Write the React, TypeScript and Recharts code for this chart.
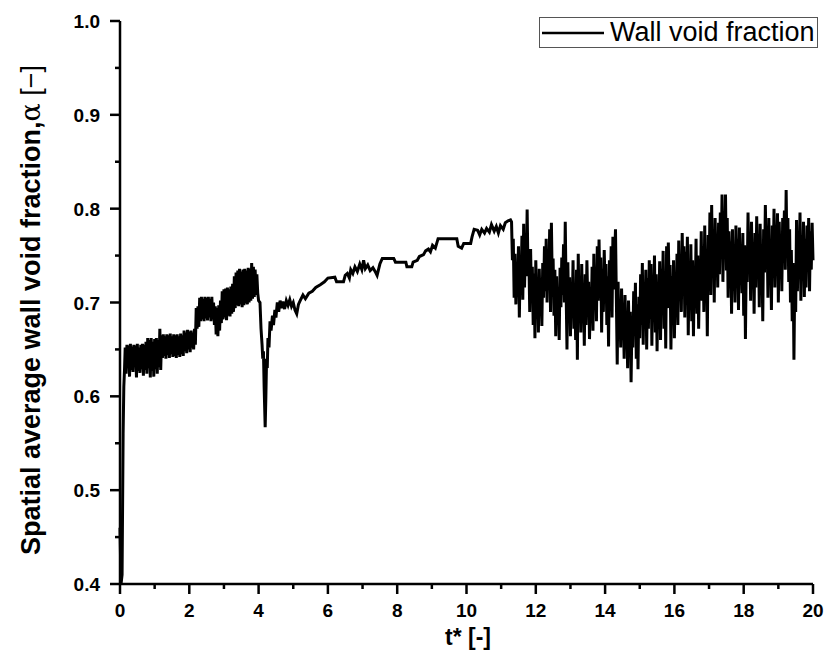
import { LineChart, Line, XAxis, YAxis, Legend, Label } from 'recharts'

const startTimes = [0, 0.03, 0.06, 0.09, 0.11, 0.13]
const startAlpha = [0.46, 0.4, 0.41, 0.56, 0.61, 0.628]

// dense band, one sample every 0.025 from t = 0.15 to 4.0
const bandStart = 0.15
const bandStep = 0.025
const bandAlpha = [
  0.652, 0.624, 0.655, 0.63, 0.654, 0.621, 0.656, 0.628, 0.653, 0.626, 0.655, 0.632, 0.654, 0.62, 0.656, 0.627, 0.652, 0.625, 0.655, 0.629,
  0.656, 0.622, 0.655, 0.628, 0.658, 0.624, 0.662, 0.63, 0.66, 0.62, 0.662, 0.627, 0.658, 0.621, 0.661, 0.629, 0.662, 0.624, 0.66, 0.631,
  0.672, 0.628, 0.665, 0.641, 0.666, 0.643, 0.664, 0.64, 0.666, 0.644, 0.665, 0.641, 0.667, 0.645, 0.664, 0.642, 0.666, 0.643, 0.665, 0.641,
  0.666, 0.644, 0.664, 0.642, 0.667, 0.645, 0.665, 0.643, 0.67, 0.648, 0.668, 0.646, 0.671, 0.65, 0.669, 0.647, 0.67, 0.652, 0.668, 0.65,
  0.672, 0.655, 0.694, 0.672, 0.696, 0.674, 0.705, 0.68, 0.706, 0.682, 0.704, 0.68, 0.706, 0.683, 0.705, 0.681, 0.706, 0.684, 0.704, 0.68,
  0.706, 0.682, 0.7, 0.676, 0.696, 0.666, 0.694, 0.664, 0.697, 0.67, 0.702, 0.678, 0.712, 0.682, 0.714, 0.684, 0.715, 0.681, 0.716, 0.686,
  0.714, 0.685, 0.717, 0.688, 0.72, 0.69, 0.728, 0.694, 0.732, 0.697, 0.734, 0.696, 0.736, 0.698, 0.733, 0.695, 0.735, 0.697, 0.736, 0.699,
  0.734, 0.698, 0.737, 0.7, 0.736, 0.702, 0.742, 0.704, 0.738, 0.706, 0.735, 0.708, 0.73, 0.71, 0.702,
]

// dip near t = 4.2 and the slow climb up to t = 11.3
const rampTimes = [
  4.04, 4.07, 4.1, 4.12, 4.14, 4.16, 4.19, 4.21, 4.23, 4.25, 4.27, 4.3, 4.33, 4.36, 4.4, 4.43, 4.47, 4.5, 4.54, 4.58,
  4.62, 4.66, 4.7, 4.75, 4.8, 4.85, 4.9, 4.95, 5.0, 5.05, 5.1, 5.15, 5.2, 5.28, 5.35, 5.45, 5.55, 5.65, 5.78, 5.9,
  6.0, 6.2, 6.25, 6.45, 6.5, 6.56, 6.62, 6.66, 6.72, 6.78, 6.85, 6.92, 6.98, 7.03, 7.08, 7.15, 7.22, 7.3, 7.38, 7.42,
  7.5, 7.57, 7.9, 7.95, 8.25, 8.28, 8.42, 8.46, 8.58, 8.64, 8.76, 8.82, 8.9, 8.96, 9.02, 9.1, 9.18, 9.72, 9.76, 9.86,
  9.92, 10.12, 10.16, 10.22, 10.32, 10.38, 10.44, 10.52, 10.58, 10.66, 10.72, 10.8, 10.86, 10.92, 10.98, 11.06, 11.12, 11.2, 11.27,
]
const rampAlpha = [
  0.7, 0.672, 0.655, 0.64, 0.648, 0.61, 0.567, 0.6, 0.64, 0.63, 0.662, 0.652, 0.68, 0.67, 0.686, 0.676, 0.692, 0.684, 0.7, 0.69,
  0.702, 0.694, 0.701, 0.693, 0.702, 0.697, 0.703, 0.696, 0.7, 0.692, 0.688, 0.698, 0.702, 0.708, 0.704, 0.71, 0.712, 0.716, 0.719, 0.722,
  0.726, 0.727, 0.722, 0.722, 0.729, 0.731, 0.726, 0.735, 0.731, 0.738, 0.733, 0.741, 0.735, 0.745, 0.736, 0.74, 0.734, 0.737, 0.732, 0.729,
  0.741, 0.747, 0.747, 0.743, 0.743, 0.738, 0.738, 0.743, 0.745, 0.749, 0.751, 0.755, 0.757, 0.754, 0.761, 0.758, 0.768, 0.768, 0.76, 0.758,
  0.763, 0.763, 0.77, 0.778, 0.777, 0.772, 0.778, 0.774, 0.779, 0.775, 0.783, 0.776, 0.781, 0.774, 0.782, 0.778, 0.785, 0.787, 0.788,
]

// fluctuating part, one sample every 0.025 from t = 11.3 to 20
const noiseStart = 11.3
const noiseStep = 0.025
const noiseAlpha = [
  0.786, 0.745, 0.768, 0.705, 0.752, 0.698, 0.735, 0.712, 0.76, 0.684, 0.742, 0.72, 0.771, 0.703, 0.784, 0.716, 0.762, 0.728, 0.799, 0.735,
  0.748, 0.69, 0.757, 0.702, 0.738, 0.676, 0.731, 0.662, 0.745, 0.7, 0.724, 0.668, 0.736, 0.694, 0.718, 0.675, 0.742, 0.705, 0.76, 0.712,
  0.768, 0.7, 0.754, 0.718, 0.778, 0.69, 0.785, 0.722, 0.747, 0.686, 0.735, 0.664, 0.728, 0.68, 0.712, 0.66, 0.737, 0.695, 0.748, 0.708,
  0.762, 0.7, 0.786, 0.712, 0.65, 0.743, 0.682, 0.727, 0.664, 0.718, 0.69, 0.745, 0.672, 0.712, 0.66, 0.735, 0.639, 0.752, 0.684, 0.727,
  0.668, 0.741, 0.69, 0.716, 0.654, 0.73, 0.676, 0.745, 0.698, 0.722, 0.661, 0.705, 0.684, 0.738, 0.67, 0.752, 0.693, 0.729, 0.68, 0.76,
  0.702, 0.767, 0.715, 0.748, 0.668, 0.736, 0.69, 0.756, 0.712, 0.741, 0.676, 0.728, 0.653, 0.745, 0.702, 0.76, 0.684, 0.77, 0.714, 0.748,
  0.778, 0.704, 0.634, 0.722, 0.668, 0.7, 0.652, 0.715, 0.676, 0.694, 0.64, 0.708, 0.662, 0.686, 0.63, 0.702, 0.658, 0.69, 0.615, 0.68,
  0.652, 0.712, 0.668, 0.721, 0.64, 0.698, 0.629, 0.706, 0.662, 0.73, 0.676, 0.742, 0.655, 0.718, 0.688, 0.735, 0.65, 0.726, 0.672, 0.745,
  0.683, 0.741, 0.654, 0.722, 0.696, 0.75, 0.668, 0.73, 0.648, 0.712, 0.69, 0.744, 0.66, 0.736, 0.702, 0.755, 0.672, 0.728, 0.651, 0.76,
  0.694, 0.764, 0.712, 0.74, 0.65, 0.728, 0.686, 0.745, 0.662, 0.718, 0.7, 0.752, 0.676, 0.766, 0.708, 0.742, 0.69, 0.774, 0.715, 0.76,
  0.684, 0.754, 0.706, 0.77, 0.665, 0.738, 0.698, 0.762, 0.68, 0.745, 0.664, 0.732, 0.702, 0.768, 0.688, 0.75, 0.672, 0.735, 0.712, 0.776,
  0.702, 0.76, 0.69, 0.782, 0.715, 0.748, 0.664, 0.772, 0.725, 0.796, 0.708, 0.804, 0.736, 0.778, 0.7, 0.79, 0.742, 0.768, 0.716, 0.785,
  0.73, 0.796, 0.748, 0.815, 0.722, 0.788, 0.758, 0.815, 0.734, 0.79, 0.705, 0.776, 0.742, 0.765, 0.688, 0.778, 0.72, 0.752, 0.7, 0.782,
  0.735, 0.768, 0.692, 0.78, 0.724, 0.756, 0.71, 0.774, 0.686, 0.761, 0.661, 0.748, 0.722, 0.796, 0.74, 0.77, 0.702, 0.786, 0.73, 0.76,
  0.688, 0.774, 0.716, 0.792, 0.742, 0.768, 0.695, 0.784, 0.722, 0.756, 0.68, 0.778, 0.732, 0.804, 0.748, 0.77, 0.705, 0.79, 0.728, 0.764,
  0.692, 0.782, 0.738, 0.8, 0.716, 0.772, 0.754, 0.795, 0.7, 0.786, 0.742, 0.77, 0.712, 0.79, 0.76, 0.798, 0.735, 0.82, 0.748, 0.79,
  0.722, 0.778, 0.7, 0.756, 0.68, 0.742, 0.639, 0.73, 0.69, 0.788, 0.712, 0.76, 0.74, 0.796, 0.702, 0.772, 0.725, 0.786, 0.706, 0.768,
  0.716, 0.782, 0.742, 0.79, 0.712, 0.776, 0.735, 0.785, 0.745,
]

const xTicks = [0, 1, 2, 3, 4, 5, 6, 7, 8, 9, 10, 11, 12, 13, 14, 15, 16, 17, 18, 19, 20]
const yTicks = [0.4, 0.45, 0.5, 0.55, 0.6, 0.65, 0.7, 0.75, 0.8, 0.85, 0.9, 0.95, 1.0]

const seriesName = 'Wall void fraction'

const data = [
  ...startTimes.map((t, i) => ({ t, alpha: startAlpha[i] })),
  ...bandAlpha.map((a, i) => ({ t: +(bandStart + i * bandStep).toFixed(3), alpha: a })),
  ...rampTimes.map((t, i) => ({ t, alpha: rampAlpha[i] })),
  ...noiseAlpha.map((a, i) => ({ t: +(noiseStart + i * noiseStep).toFixed(3), alpha: a })),
]

const font = 'Arial, "Liberation Sans", sans-serif'

function XTick({ x, y, payload }: any) {
  const major = payload.value % 2 === 0
  return (
    <g>
      <line x1={x} x2={x} y1={y} y2={y + (major ? 10 : 5)} stroke="#000" strokeWidth={2.5} />
      {major && (
        <text x={x} y={y + 33} textAnchor="middle" fontSize={19} fontWeight="bold" fontFamily={font} fill="#000">
          {payload.value}
        </text>
      )}
    </g>
  )
}

function YTick({ x, y, payload }: any) {
  const major = Math.round(payload.value * 100) % 10 === 0
  return (
    <g>
      <line x1={x} x2={x - (major ? 10 : 5)} y1={y} y2={y} stroke="#000" strokeWidth={2.5} />
      {major && (
        <text x={x - 20} y={y + 7} textAnchor="end" fontSize={19} fontWeight="bold" fontFamily={font} fill="#000">
          {payload.value.toFixed(1)}
        </text>
      )}
    </g>
  )
}

function YTitle() {
  return (
    <text x={40} y={310} transform="rotate(-90, 40, 310)" textAnchor="middle" fontSize={27} fontFamily={font} fill="#000">
      <tspan fontWeight="bold">Spatial average wall void fraction,</tspan>
      <tspan fontFamily="'DejaVu Serif', serif">α</tspan>
      <tspan> [−]</tspan>
    </text>
  )
}

function XTitle() {
  return (
    <text x={468} y={645} textAnchor="middle" fontSize={23} fontWeight="bold" fontFamily={font} fill="#000">
      t* [-]
    </text>
  )
}

function LegendBox() {
  return (
    <div
      style={{
        width: 279,
        height: 31,
        boxSizing: 'border-box',
        border: '1px solid #555',
        background: '#fff',
        display: 'flex',
        alignItems: 'center',
        fontFamily: font,
        fontSize: 27,
        lineHeight: 1,
        color: '#000',
        whiteSpace: 'nowrap',
      }}
    >
      <svg width={64} height={10} style={{ marginLeft: 2 }}>
        <line x1={0} x2={62} y1={5} y2={5} stroke="#000" strokeWidth={2.5} />
      </svg>
      <span style={{ marginLeft: 4 }}>{seriesName}</span>
    </div>
  )
}

export default function App() {
  return (
    <div style={{ position: 'absolute', left: 0, top: 0, width: 828, height: 652, background: '#fff' }}>
      <LineChart width={828} height={652} data={data} margin={{ top: 21, right: 15, bottom: 0, left: 0 }}>
        <XAxis
          dataKey="t"
          type="number"
          domain={[0, 20]}
          ticks={xTicks}
          interval={0}
          height={68}
          tickSize={0}
          tickMargin={0}
          tick={<XTick />}
          axisLine={{ stroke: '#000', strokeWidth: 2.5 }}
          tickLine={false}
        >
          <Label content={<XTitle />} />
        </XAxis>
        <YAxis
          type="number"
          domain={[0.4, 1.0]}
          ticks={yTicks}
          interval={0}
          width={120}
          tickSize={0}
          tickMargin={0}
          tick={<YTick />}
          axisLine={{ stroke: '#000', strokeWidth: 2.5 }}
          tickLine={false}
        >
          <Label content={<YTitle />} />
        </YAxis>
        <Legend
          layout="vertical"
          align="center"
          verticalAlign="middle"
          content={<LegendBox />}
          wrapperStyle={{ left: 539, top: 17, width: 279, height: 31 }}
        />
        <Line
          type="linear"
          dataKey="alpha"
          name={seriesName}
          stroke="#000"
          strokeWidth={3}
          dot={false}
          activeDot={false}
          isAnimationActive={false}
        />
      </LineChart>
    </div>
  )
}
